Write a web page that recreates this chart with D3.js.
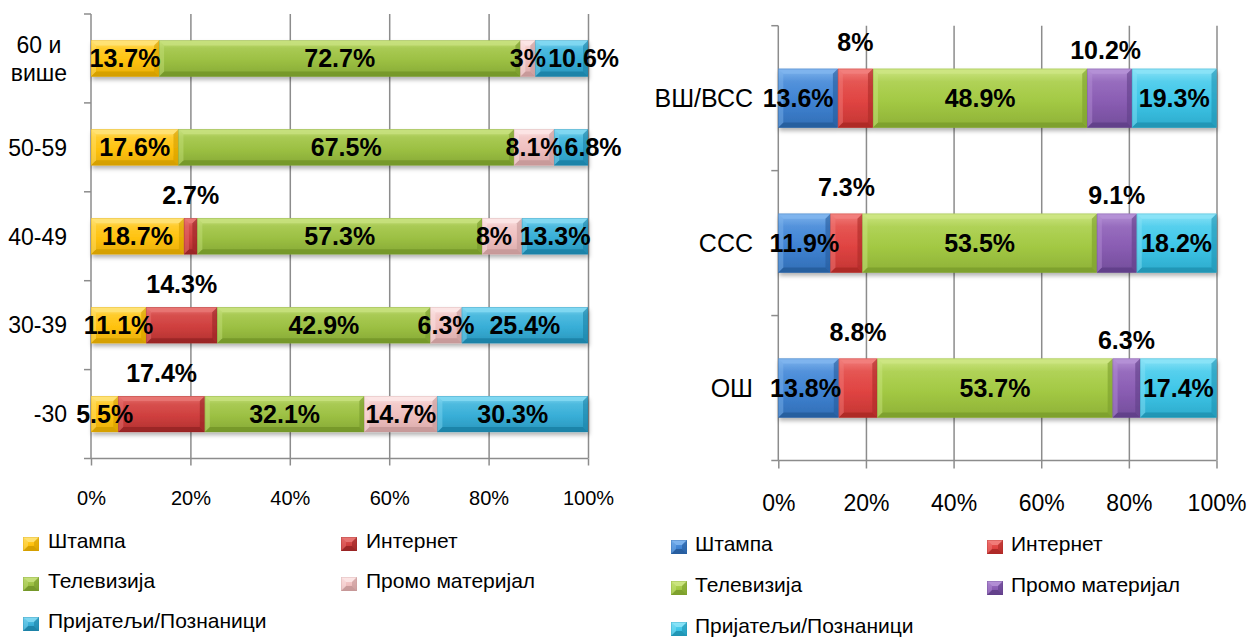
<!DOCTYPE html>
<html>
<head>
<meta charset="utf-8">
<script src="https://cdn.jsdelivr.net/npm/d3@7"></script>
<style>
  body { margin: 0; background: #fff; }
  svg { display: block; font-family: "Liberation Sans", Arial, sans-serif; }
</style>
</head>
<body>
<svg id="chart" width="1252" height="637"></svg>
<script>
// ---- data ----
const seriesNames = ["Штампа", "Интернет", "Телевизија", "Промо материјал", "Пријатељи/Познаници"];

// by age group
const ageGroups   = ["60 и\nвише", "50-59", "40-49", "30-39", "-30"];
const ageStampa   = [13.7, 17.6, 18.7, 11.1, 5.5];
const ageInternet = [0, 0, 2.7, 14.3, 17.4];
const ageTv       = [72.7, 67.5, 57.3, 42.9, 32.1];
const agePromo    = [3, 8.1, 8, 6.3, 14.7];
const ageFriends  = [10.6, 6.8, 13.3, 25.4, 30.3];

// by education level
const eduGroups   = ["ВШ/ВСС", "ССС", "ОШ"];
const eduStampa   = [13.6, 11.9, 13.8];
const eduInternet = [8, 7.3, 8.8];
const eduTv       = [48.9, 53.5, 53.7];
const eduPromo    = [10.2, 9.1, 6.3];
const eduFriends  = [19.3, 18.2, 17.4];

const xTicks = [0, 20, 40, 60, 80, 100];

// ---- styles ----
const paletteAge = [
  { base: "#FFC20E", light: "#FFE275", dark: "#D49E00" },
  { base: "#CF3F3E", light: "#E87673", dark: "#982525" },
  { base: "#9CC043", light: "#C6E07C", dark: "#74972A" },
  { base: "#EFBFBF", light: "#FCE6E6", dark: "#C59898" },
  { base: "#38AED7", light: "#82D8F2", dark: "#1D82A6" }
];
const paletteEdu = [
  { base: "#3F83D3", light: "#80B5EE", dark: "#275C9C" },
  { base: "#E04442", light: "#F27F7C", dark: "#AC2927" },
  { base: "#A3C944", light: "#CDE683", dark: "#7C9E2C" },
  { base: "#8A5DB3", light: "#B591D6", dark: "#603F88" },
  { base: "#3EC6E8", light: "#8BE3F7", dark: "#1F93B3" }
];

const svg = d3.select("#chart");
const defs = svg.append("defs");

const shadow = defs.append("filter").attr("id", "barShadow")
  .attr("x", "-5%").attr("y", "-20%").attr("width", "110%").attr("height", "160%");
shadow.append("feDropShadow")
  .attr("dx", 1).attr("dy", 3).attr("stdDeviation", 2)
  .attr("flood-color", "#000").attr("flood-opacity", 0.3);

let gradCount = 0;
function gradientFor(c) {
  const id = "grad" + (gradCount++);
  const lg = defs.append("linearGradient").attr("id", id)
    .attr("x1", 0).attr("y1", 0).attr("x2", 0).attr("y2", 1);
  lg.append("stop").attr("offset", "0%").attr("stop-color", c.light);
  lg.append("stop").attr("offset", "22%").attr("stop-color", d3.interpolateRgb(c.light, c.base)(0.7));
  lg.append("stop").attr("offset", "55%").attr("stop-color", c.base);
  lg.append("stop").attr("offset", "100%").attr("stop-color", d3.interpolateRgb(c.base, c.dark)(0.55));
  return "url(#" + id + ")";
}

// a bar segment with a bevelled edge
function bevelRect(g, x0, x1, y0, y1, c, fill) {
  const w = x1 - x0, h = y1 - y0;
  const b = Math.min(5, w / 2, h / 2);
  const seg = g.append("g");
  seg.append("rect").attr("x", x0).attr("y", y0).attr("width", w).attr("height", h).attr("fill", fill);
  const poly = (pts, col, op) => seg.append("polygon")
    .attr("points", pts.map(p => p.join(",")).join(" "))
    .attr("fill", col).attr("opacity", op);
  poly([[x0, y0], [x1, y0], [x1 - b, y0 + b], [x0 + b, y0 + b]], c.light, 0.9);
  poly([[x0, y1], [x1, y1], [x1 - b, y1 - b], [x0 + b, y1 - b]], c.dark, 0.9);
  poly([[x0, y0], [x0 + b, y0 + b], [x0 + b, y1 - b], [x0, y1]], c.light, 0.45);
  poly([[x1, y0], [x1 - b, y0 + b], [x1 - b, y1 - b], [x1, y1]], c.dark, 0.6);
  seg.append("rect").attr("x", x0 + 0.25).attr("y", y0 + 0.25).attr("width", w - 0.5).attr("height", h - 0.5)
    .attr("fill", "none").attr("stroke", c.dark).attr("stroke-opacity", 0.55).attr("stroke-width", 0.5);
}

function drawChart(cfg) {
  const g = svg.append("g");
  const keys = seriesNames;
  const rows = cfg.categories.map((c, i) => {
    const r = { cat: c };
    cfg.values.forEach((arr, k) => { r[keys[k]] = arr[i]; });
    return r;
  });
  const stacked = d3.stack().keys(keys)(rows);

  const x = d3.scaleLinear().domain([0, 100]).range([cfg.left, cfg.right]);
  const y = d3.scaleBand().domain(cfg.categories).range([cfg.top, cfg.bottom]).padding(0);
  const barH = y.step() * cfg.barRatio;
  const axisCol = "#8c8c8c";

  // vertical gridlines
  g.append("g").attr("transform", `translate(0,${cfg.bottom})`)
    .call(d3.axisBottom(x).tickValues(xTicks.slice(1)).tickSize(-(cfg.bottom - cfg.top)).tickFormat(""))
    .call(s => s.select(".domain").remove())
    .selectAll("line").attr("stroke", axisCol).attr("stroke-width", 1.5);

  // x axis
  const xa = g.append("g").attr("transform", `translate(0,${cfg.bottom})`)
    .call(d3.axisBottom(x).tickValues(xTicks).tickSize(cfg.xTickSize).tickPadding(cfg.xTickPad)
      .tickFormat(d => d + "%"));
  xa.select(".domain").attr("stroke", axisCol).attr("stroke-width", 1.5)
    .attr("d", `M${cfg.left},0H${cfg.right}`);
  xa.selectAll(".tick line").attr("stroke", axisCol).attr("stroke-width", 1.5);
  xa.selectAll(".tick text").attr("fill", "#000").attr("font-size", cfg.xFont)
    .attr("font-family", "Liberation Sans, Arial, sans-serif");

  // y axis with ticks on the category boundaries
  const ya = g.append("g");
  ya.append("line").attr("x1", cfg.left).attr("x2", cfg.left)
    .attr("y1", cfg.top).attr("y2", cfg.bottom).attr("stroke", axisCol).attr("stroke-width", 1.5);
  const bounds = cfg.categories.map(c => y(c)).concat([cfg.bottom]);
  ya.selectAll("line.tk").data(bounds).join("line").attr("class", "tk")
    .attr("x1", cfg.left - 7).attr("x2", cfg.left).attr("y1", d => d).attr("y2", d => d)
    .attr("stroke", axisCol).attr("stroke-width", 1.5);

  // category labels
  cfg.categories.forEach(c => {
    const lines = c.split("\n");
    const cy = y(c) + y.bandwidth() / 2;
    const t = ya.append("text").attr("font-size", cfg.yFont).attr("fill", "#000");
    if (lines.length === 1) {
      t.attr("x", cfg.labelRight).attr("y", cy).attr("dy", "0.36em").attr("text-anchor", "end").text(c);
    } else {
      const lh = cfg.yFont * 1.2;
      lines.forEach((ln, i) => {
        t.append("tspan").attr("x", 0).attr("y", cy + (i - (lines.length - 1) / 2) * lh)
          .attr("dy", "0.36em").attr("text-anchor", "middle").text(ln);
      });
      const w = t.node().getBBox().width;
      t.selectAll("tspan").attr("x", cfg.labelRight - w / 2);
    }
  });

  // bars
  const bars = g.append("g").attr("filter", "url(#barShadow)");
  stacked.forEach((s, k) => {
    const col = cfg.palette[k];
    const fill = gradientFor(col);
    s.forEach((d, i) => {
      if (d[1] - d[0] <= 0) return;
      const c = cfg.categories[i];
      const y0 = y(c) + (y.bandwidth() - barH) / 2;
      bevelRect(bars, x(d[0]), x(d[1]), y0, y0 + barH, col, fill);
    });
  });

  // value labels
  const lbl = g.append("g").attr("font-size", cfg.valueFont).attr("font-weight", "bold")
    .attr("fill", "#000").attr("text-anchor", "middle");
  stacked.forEach((s, k) => {
    s.forEach((d, i) => {
      const v = d[1] - d[0];
      if (v <= 0) return;
      const c = cfg.categories[i];
      const val = cfg.values[k][i];
      const nud = cfg.nudge[c + "|" + keys[k]] || 0;
      const above = cfg.above[keys[k]];
      const cy = y(c) + y.bandwidth() / 2 + (above !== undefined ? above : 0);
      lbl.append("text").attr("x", x((d[0] + d[1]) / 2) + nud).attr("y", cy)
        .attr("dy", "0.36em").text(val + "%");
    });
  });

  // legend
  const lg = g.append("g").attr("font-size", cfg.legendFont).attr("fill", "#000");
  keys.forEach((name, k) => {
    const colI = k % 2, rowI = Math.floor(k / 2);
    const lx = cfg.legend.x[colI], ly = cfg.legend.y[rowI];
    const col = cfg.palette[k];
    bevelRect(lg, lx, lx + 16, ly - 3, ly + 11, col, gradientFor(col));
    lg.append("text").attr("x", lx + cfg.legend.textDx).attr("y", ly).attr("dy", "0.36em").text(name);
  });
}

// age chart
drawChart({
  categories: ageGroups,
  values: [ageStampa, ageInternet, ageTv, agePromo, ageFriends],
  palette: paletteAge,
  left: 91, right: 588, top: 14, bottom: 458.5,
  barRatio: 0.405,
  xTickSize: 7, xTickPad: 25, xFont: 20,
  yFont: 23, labelRight: 67,
  valueFont: 25,
  above: { "Интернет": -41 },
  nudge: { "60 и\nвише|Пријатељи/Познаници": 22, "50-59|Пријатељи/Познаници": 22, "40-49|Промо материјал": -8 },
  legendFont: 21,
  legend: { x: [23, 341], textDx: 25, y: [540, 580, 620] }
});

// education chart
drawChart({
  categories: eduGroups,
  values: [eduStampa, eduInternet, eduTv, eduPromo, eduFriends],
  palette: paletteEdu,
  left: 778.3, right: 1216.5, top: 25.7, bottom: 460.5,
  barRatio: 0.406,
  xTickSize: 8, xTickPad: 26.5, xFont: 23,
  yFont: 25, labelRight: 753,
  valueFont: 25,
  above: { "Интернет": -56, "Промо материјал": -48 },
  nudge: { "ВШ/ВСС|Штампа": -10, "ВШ/ВСС|Промо материјал": -4, "ОШ|Штампа": -3 },
  legendFont: 21,
  legend: { x: [671, 987], textDx: 24, y: [543, 584, 625] }
});
</script>
</body>
</html>
